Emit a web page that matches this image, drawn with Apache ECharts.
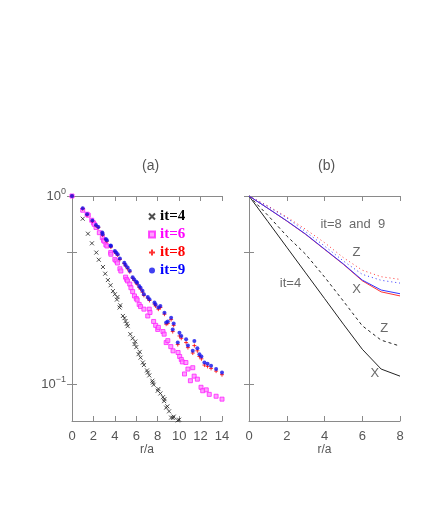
<!DOCTYPE html>
<html>
<head>
<meta charset="utf-8">
<script src="https://cdn.jsdelivr.net/npm/echarts@6/dist/echarts.min.js"></script>
<style>
  html, body { margin: 0; padding: 0; background: #fff; }
  #chart { width: 436px; height: 518px; }
</style>
</head>
<body>
<div id="chart"></div>
<script>
// panel (a): correlation vs r/a for each iteration, [r, value]
var it4 = [[0,1.0],[1.0,0.757],[1.49,0.63],[1.86,0.56],[2.27,0.50],[2.5,0.458],[2.89,0.419],[3.1,0.386],
  [3.35,0.357],[3.6,0.335],[3.82,0.312],[4.0,0.30],[4.19,0.281],[4.24,0.29],[4.44,0.255],[4.5,0.262],
  [4.75,0.230],[4.9,0.224],[5.0,0.216],[5.12,0.209],[5.2,0.203],[5.44,0.184],[5.66,0.175],[5.84,0.163],
  [5.9,0.168],[6.0,0.157],[6.21,0.144],[6.32,0.148],[6.4,0.138],[6.61,0.130],[6.71,0.126],[7.0,0.118],
  [7.08,0.115],[7.21,0.111],[7.5,0.104],[7.54,0.1016],[7.62,0.099],[8.0,0.092],[8.06,0.094],[8.25,0.089],
  [8.49,0.085],[8.6,0.081],[8.63,0.083],[8.79,0.0748],[8.9,0.076],[9.06,0.0715],[9.25,0.0662],[9.43,0.066],
  [9.49,0.067],[9.87,0.064],[10.0,0.0645]];
var it6 = [[0,1.0],[1.0,0.84],[1.41,0.80],[1.52,0.79],[1.84,0.743],[2.0,0.72],[2.08,0.707],[2.24,0.68],
  [2.55,0.638],[2.83,0.60],[2.95,0.581],[3.0,0.575],[3.16,0.55],[3.26,0.542],[3.61,0.50],[3.63,0.49],
  [4.0,0.46],[4.12,0.451],[4.24,0.44],[4.47,0.41],[4.56,0.399],[5.0,0.37],[5.1,0.36],[5.19,0.353],
  [5.39,0.34],[5.5,0.325],[5.66,0.31],[5.83,0.294],[6.0,0.285],[6.08,0.28],[6.27,0.265],[6.4,0.258],
  [6.71,0.25],[7.07,0.23],[7.21,0.25],[7.28,0.24],[7.62,0.215],[7.81,0.205],[8.0,0.195],[8.06,0.2],
  [8.49,0.19],[8.6,0.184],[8.79,0.166],[8.94,0.17],[9.22,0.158],[9.43,0.15],[9.9,0.147],[10.05,0.14],
  [10.2,0.135],[10.3,0.131],[10.63,0.13],[10.5,0.113],[10.82,0.12],[11.05,0.104],[11.27,0.122],[11.4,0.11],
  [11.7,0.106],[12.04,0.096],[12.2,0.092],[12.53,0.093],[12.81,0.088],[13.45,0.086],[14.0,0.083]];
var it8 = [[0,1.0],[1.0,0.855],[1.41,0.795],[1.9,0.735],[2.24,0.695],[2.46,0.68],[2.83,0.635],[2.86,0.62],
  [3.16,0.585],[3.26,0.575],[3.61,0.54],[3.63,0.535],[4.0,0.505],[4.12,0.495],[4.26,0.485],[4.47,0.46],
  [4.88,0.437],[5.0,0.425],[5.19,0.41],[5.39,0.395],[5.66,0.365],[5.81,0.355],[6.0,0.345],[6.08,0.34],
  [6.27,0.327],[6.4,0.32],[6.58,0.308],[6.71,0.296],[7.07,0.286],[7.23,0.278],[7.7,0.266],[7.8,0.26],
  [8.06,0.25],[8.25,0.255],[8.63,0.235],[8.79,0.208],[8.94,0.21],[9.25,0.22],[9.4,0.19],[9.49,0.205],
  [9.87,0.162],[10.03,0.18],[10.2,0.175],[10.65,0.166],[10.82,0.156],[11.27,0.146],[11.42,0.16],[11.7,0.15],
  [11.89,0.14],[12.08,0.136],[12.36,0.126],[12.65,0.124],[12.98,0.121],[13.45,0.117],[14.0,0.112]];
var it9 = [[0,1.0],[1.0,0.86],[1.41,0.80],[1.9,0.74],[2.24,0.70],[2.46,0.684],[2.83,0.64],[2.86,0.626],
  [3.16,0.59],[3.26,0.581],[3.61,0.545],[3.63,0.542],[4.0,0.51],[4.12,0.50],[4.26,0.49],[4.47,0.465],
  [4.88,0.442],[5.0,0.43],[5.19,0.416],[5.39,0.40],[5.66,0.37],[5.81,0.36],[6.0,0.35],[6.08,0.345],
  [6.27,0.332],[6.4,0.325],[6.58,0.313],[6.71,0.30],[7.07,0.29],[7.23,0.282],[7.7,0.271],[7.8,0.265],
  [8.06,0.255],[8.25,0.26],[8.63,0.239],[8.79,0.212],[8.94,0.215],[9.25,0.225],[9.4,0.195],[9.49,0.21],
  [9.87,0.166],[10.03,0.1875],[10.2,0.18],[10.65,0.173],[10.82,0.16],[11.27,0.150],[11.42,0.169],[11.7,0.155],
  [11.89,0.144],[12.08,0.14],[12.36,0.13],[12.65,0.128],[12.98,0.125],[13.45,0.12],[14.0,0.115]];

// panel (b): X and Z components
var rB = [0, 1, 2, 3, 4, 5, 6, 7, 8];
var it4X = [1, 0.731, 0.534, 0.39, 0.285, 0.208, 0.153, 0.12, 0.11];
var it4Z = [1, 0.789, 0.613, 0.49, 0.371, 0.276, 0.204, 0.171, 0.159];
var it8X = [1, 0.86, 0.736, 0.625, 0.52, 0.433, 0.354, 0.309, 0.294];
var it9X = [1, 0.86, 0.738, 0.627, 0.522, 0.435, 0.357, 0.316, 0.302];
var it8Z = [1, 0.885, 0.773, 0.665, 0.565, 0.47, 0.403, 0.372, 0.36];
var it9Z = [1, 0.88, 0.765, 0.646, 0.542, 0.451, 0.383, 0.356, 0.344];
var notes = [
  { name: 'it=8  and  9', value: [5.5, 0.71] },
  { name: 'Z', value: [5.7, 0.5] },
  { name: 'X', value: [5.7, 0.319] },
  { name: 'it=4', value: [2.2, 0.342] },
  { name: 'Z', value: [7.17, 0.198] },
  { name: 'X', value: [6.67, 0.1135] }
];

var xTicksA = [0, 14, 2];
var xTicksB = [0, 8, 2];
var yMin = 0.0635, yMax = 1;

var frame = '#8a8a8a';
var txt = '#555';
var sans = 'Liberation Sans';

function pair(xs, ys) {
  return xs.map(function (x, i) { return [x, ys[i]]; });
}

function xAx(grid, t, top) {
  return {
    type: 'value', gridIndex: grid, min: t[0], max: t[1], interval: t[2],
    position: top ? 'top' : 'bottom',
    name: top ? '' : 'r/a', nameLocation: 'middle', nameGap: 21,
    nameTextStyle: { color: txt, fontFamily: sans, fontSize: 12 },
    axisLine: { lineStyle: { color: frame } },
    axisTick: { inside: true, length: 5, lineStyle: { color: frame } },
    axisLabel: { show: !top, color: txt, fontFamily: sans, fontSize: 13, margin: 9 },
    splitLine: { show: false }
  };
}

function yAx(grid, right, labels) {
  return {
    type: 'log', logBase: 10, gridIndex: grid, min: yMin, max: yMax,
    position: right ? 'right' : 'left',
    axisLine: { show: true, lineStyle: { color: frame } },
    axisTick: { inside: true, length: 5, customValues: [1, 0.5, 0.1], lineStyle: { color: frame } },
    axisLabel: {
      show: labels, customValues: [1, 0.1], color: txt, fontFamily: sans, fontSize: 13, margin: 6,
      formatter: function (v) { return v >= 0.99 ? '10{s|0}' : '10{s|\u22121}'; },
      rich: { s: { fontSize: 9, verticalAlign: 'top', padding: [0, 0, 8, 0], color: txt, fontFamily: sans } }
    },
    splitLine: { show: false }
  };
}

var X_PATH = 'path://M0,0L10,10M10,0L0,10';
var PLUS_PATH = 'path://M5,0L5,10M0,5L10,5';

function lineSeries(name, ys, color, type) {
  return {
    name: name, type: 'line', xAxisIndex: 2, yAxisIndex: 2, data: pair(rB, ys),
    symbol: 'none', silent: true,
    lineStyle: { color: color, width: 1, type: type }
  };
}

var chart = echarts.init(document.getElementById('chart'));
chart.setOption({
  animation: false,
  backgroundColor: '#fff',
  title: [
    { text: '(a)', left: 137, top: 154, textStyle: { color: txt, fontFamily: sans, fontSize: 14, fontWeight: 'normal' } },
    { text: '(b)', left: 313, top: 154, textStyle: { color: txt, fontFamily: sans, fontSize: 14, fontWeight: 'normal' } }
  ],
  legend: {
    orient: 'vertical', left: 143, top: 204, itemGap: 3,
    itemWidth: 6, itemHeight: 6,
    textStyle: { fontFamily: 'Liberation Serif', fontWeight: 'bold', fontSize: 15 },
    data: [
      { name: 'it=4', textStyle: { color: '#000' } },
      { name: 'it=6', textStyle: { color: '#ff00ff' } },
      { name: 'it=8', textStyle: { color: '#ff0000' } },
      { name: 'it=9', textStyle: { color: '#0000ff' } }
    ]
  },
  grid: [
    { left: 72, top: 196, width: 150, height: 225 },
    { left: 249, top: 196, width: 151, height: 225 }
  ],
  xAxis: [xAx(0, xTicksA, false), xAx(0, xTicksA, true), xAx(1, xTicksB, false), xAx(1, xTicksB, true)],
  yAxis: [yAx(0, false, true), yAx(0, true, false), yAx(1, false, false), yAx(1, true, false)],
  series: [
    { name: 'it=4', type: 'scatter', xAxisIndex: 0, yAxisIndex: 0, data: it4, symbol: X_PATH, symbolSize: 4,
      itemStyle: { color: '#000', borderColor: '#222', borderWidth: 1 } },
    { name: 'it=6', type: 'scatter', xAxisIndex: 0, yAxisIndex: 0, data: it6, symbol: 'rect', symbolSize: 4,
      itemStyle: { color: '#ff88ff', borderColor: '#ff22ff', borderWidth: 1 } },
    { name: 'it=8', type: 'scatter', xAxisIndex: 0, yAxisIndex: 0, data: it8, symbol: PLUS_PATH, symbolSize: 4,
      itemStyle: { color: '#ff0000', borderColor: '#ff0000', borderWidth: 1 } },
    { name: 'it=9', type: 'scatter', xAxisIndex: 0, yAxisIndex: 0, data: it9, symbol: 'circle', symbolSize: 4,
      itemStyle: { color: '#1111ee' } },
    lineSeries('b4Z', it4Z, '#222', [3, 3]),
    lineSeries('b4X', it4X, '#222', 'solid'),
    lineSeries('b8Z', it8Z, '#ff3333', [1, 3]),
    lineSeries('b9Z', it9Z, '#3333ff', [1, 3]),
    lineSeries('b8X', it8X, '#ff3333', 'solid'),
    lineSeries('b9X', it9X, '#3333ff', 'solid'),
    { name: 'notes', type: 'scatter', xAxisIndex: 2, yAxisIndex: 2, data: notes, symbolSize: 0, silent: true,
      label: { show: true, position: 'inside', formatter: '{b}', color: '#444', fontFamily: sans, fontSize: 13 } }
  ]
});
</script>
</body>
</html>
